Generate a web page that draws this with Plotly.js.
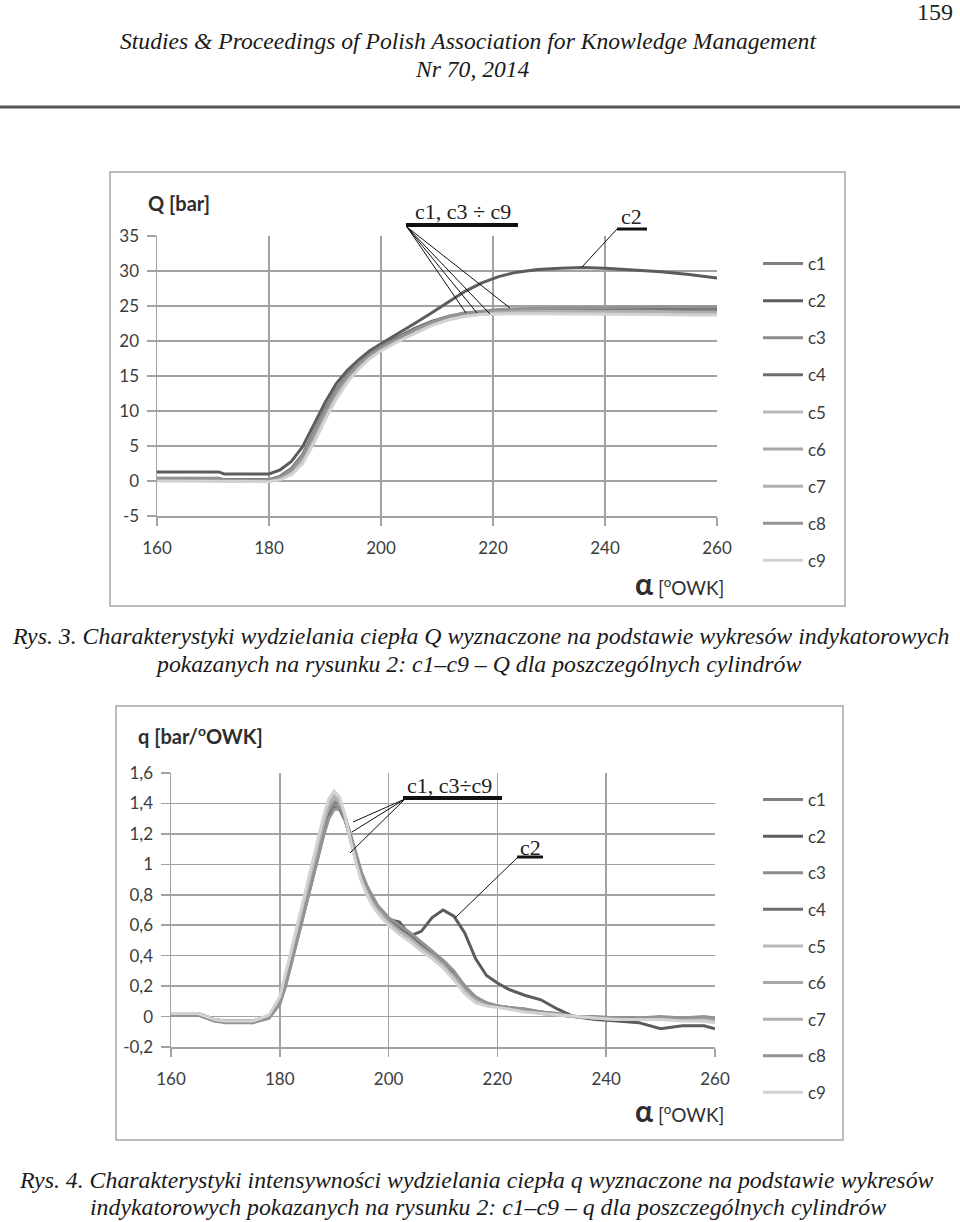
<!DOCTYPE html>
<html><head><meta charset="utf-8">
<script src="https://cdn.plot.ly/plotly-3.0.1.min.js"></script>
<style>html,body{margin:0;padding:0;background:#fff}#chart{width:960px;height:1222px}</style>
</head><body><div id="chart"></div>
<script>
// ---------- data ----------
const seriesNames = ['c1','c2','c3','c4','c5','c6','c7','c8','c9'];
const seriesColors = ['#808080','#5c5c5c','#8c8c8c','#6e6e6e','#b8b8b8','#a8a8a8','#b0b0b0','#939393','#d2d2d2'];

// Fig. 3: Q [bar] vs alpha
const alphaQ = [160,171,172,180,182,184,186,188,190,192,194,196,198,200,203,206,209,212,215,218,221,224,228,232,236,240,245,250,255,260];
const Q_c1 = [0.3,0.3,0.1,0.1,0.5,1.5,3.4,6.5,9.8,12.7,14.9,16.6,17.9,19.0,20.3,21.5,22.6,23.4,23.9,24.1,24.2,24.3,24.4,24.4,24.4,24.4,24.5,24.5,24.5,24.4];
const Q_c2 = [1.3,1.3,1.0,1.0,1.6,2.8,4.9,8.0,11.2,13.9,15.8,17.3,18.6,19.6,21.0,22.5,24.0,25.6,27.1,28.3,29.2,29.8,30.2,30.4,30.5,30.4,30.2,29.9,29.5,29.0];
const Q_c3 = [0.2,0.2,0.0,0.0,0.4,1.3,3.1,6.1,9.4,12.3,14.6,16.4,17.8,18.9,20.2,21.4,22.5,23.3,23.8,24.1,24.3,24.4,24.5,24.6,24.6,24.7,24.7,24.8,24.8,24.8];
const Q_c4 = [0.4,0.4,0.2,0.2,0.7,1.8,3.8,7.0,10.3,13.1,15.2,16.9,18.2,19.3,20.6,21.8,22.8,23.5,24.0,24.2,24.3,24.4,24.5,24.5,24.5,24.6,24.7,24.7,24.8,24.8];
const Q_c5 = [0.1,0.1,0.0,0.0,0.3,1.0,2.7,5.6,8.9,11.9,14.3,16.2,17.6,18.7,20.0,21.2,22.3,23.1,23.6,23.9,24.0,24.0,24.1,24.1,24.1,24.1,24.1,24.0,24.0,24.0];
const Q_c6 = [0.3,0.3,0.1,0.1,0.5,1.4,3.3,6.3,9.6,12.5,14.8,16.5,17.9,19.0,20.3,21.4,22.5,23.2,23.7,24.0,24.1,24.2,24.3,24.3,24.3,24.3,24.2,24.2,24.1,24.1];
const Q_c7 = [0.2,0.2,0.0,0.0,0.4,1.2,3.0,5.9,9.2,12.2,14.5,16.3,17.7,18.8,20.1,21.3,22.4,23.2,23.7,24.0,24.1,24.2,24.2,24.2,24.2,24.2,24.1,24.1,24.0,24.0];
const Q_c8 = [0.3,0.3,0.1,0.1,0.6,1.6,3.6,6.8,10.0,12.9,15.0,16.7,18.0,19.1,20.4,21.6,22.7,23.5,24.0,24.3,24.5,24.6,24.7,24.8,24.8,24.8,24.9,24.9,24.9,24.9];
const Q_c9 = [0.0,0.0,-0.1,-0.1,0.2,0.9,2.5,5.4,8.7,11.7,14.1,16.0,17.5,18.6,19.9,21.1,22.2,23.0,23.5,23.8,23.9,23.9,23.9,23.9,23.9,23.9,23.8,23.8,23.7,23.7];

// Fig. 4: q [bar/oOWK] vs alpha
const alphaq = [160,165,168,170,175,178,180,181,182,183,184,185,186,187,188,189,190,191,192,193,194,195,196,197,198,199,200,202,204,206,208,210,212,214,216,218,220,222,225,228,231,234,238,242,246,250,254,258,260];
const q_c1 = [0.02,0.02,-0.02,-0.03,-0.03,0.0,0.1,0.22,0.36,0.5,0.64,0.78,0.92,1.07,1.22,1.34,1.41,1.40,1.31,1.18,1.04,0.92,0.83,0.76,0.71,0.67,0.63,0.57,0.52,0.46,0.41,0.35,0.27,0.18,0.11,0.08,0.07,0.06,0.04,0.03,0.01,0.0,-0.01,-0.01,-0.02,-0.02,-0.01,-0.02,-0.03];
const q_c2 = [0.02,0.02,-0.02,-0.03,-0.03,0.0,0.1,0.21,0.34,0.48,0.62,0.76,0.9,1.05,1.19,1.31,1.38,1.37,1.29,1.17,1.03,0.91,0.82,0.75,0.7,0.66,0.64,0.62,0.53,0.56,0.65,0.70,0.66,0.55,0.38,0.27,0.22,0.18,0.14,0.11,0.05,0.0,-0.02,-0.03,-0.04,-0.08,-0.06,-0.06,-0.08];
const q_c3 = [0.01,0.01,-0.03,-0.03,-0.04,-0.01,0.09,0.2,0.34,0.48,0.62,0.76,0.9,1.05,1.2,1.32,1.39,1.38,1.3,1.18,1.05,0.94,0.85,0.78,0.72,0.68,0.64,0.58,0.53,0.47,0.42,0.36,0.28,0.19,0.12,0.09,0.07,0.06,0.05,0.03,0.02,0.0,-0.01,-0.02,-0.02,-0.01,-0.02,-0.01,-0.02];
const q_c4 = [0.02,0.01,-0.02,-0.03,-0.03,0.0,0.11,0.23,0.37,0.51,0.65,0.79,0.93,1.07,1.21,1.32,1.37,1.36,1.29,1.17,1.04,0.93,0.85,0.78,0.72,0.68,0.64,0.59,0.54,0.48,0.42,0.36,0.29,0.2,0.12,0.09,0.07,0.06,0.04,0.03,0.01,0.0,-0.01,-0.01,-0.01,-0.02,-0.01,-0.01,-0.02];
const q_c5 = [0.02,0.02,-0.02,-0.03,-0.03,0.0,0.12,0.25,0.4,0.55,0.69,0.84,0.98,1.13,1.28,1.4,1.45,1.42,1.31,1.16,1.02,0.9,0.81,0.74,0.69,0.65,0.61,0.55,0.5,0.44,0.39,0.33,0.25,0.16,0.1,0.07,0.06,0.05,0.04,0.02,0.01,0.0,-0.01,-0.02,-0.01,-0.02,-0.02,-0.03,-0.03];
const q_c6 = [0.02,0.02,-0.02,-0.03,-0.03,0.0,0.11,0.24,0.38,0.53,0.67,0.82,0.96,1.11,1.26,1.38,1.43,1.41,1.31,1.17,1.03,0.91,0.82,0.75,0.7,0.66,0.62,0.56,0.51,0.45,0.4,0.34,0.26,0.17,0.11,0.08,0.07,0.06,0.04,0.03,0.01,0.0,-0.01,-0.01,-0.02,-0.01,-0.01,-0.02,-0.02];
const q_c7 = [0.02,0.02,-0.02,-0.03,-0.03,0.0,0.12,0.24,0.39,0.54,0.68,0.83,0.97,1.12,1.27,1.39,1.44,1.41,1.3,1.16,1.02,0.9,0.81,0.75,0.7,0.66,0.62,0.56,0.51,0.45,0.4,0.34,0.26,0.17,0.11,0.08,0.07,0.06,0.04,0.02,0.01,0.0,-0.01,-0.02,-0.02,-0.02,-0.01,-0.02,-0.03];
const q_c8 = [0.01,0.01,-0.03,-0.04,-0.04,-0.01,0.08,0.19,0.33,0.47,0.61,0.75,0.89,1.04,1.18,1.3,1.36,1.37,1.31,1.2,1.07,0.95,0.86,0.79,0.73,0.69,0.65,0.6,0.55,0.49,0.43,0.37,0.3,0.2,0.13,0.09,0.07,0.06,0.05,0.03,0.02,0.0,0.0,-0.01,-0.01,0.0,-0.01,0.0,-0.01];
const q_c9 = [0.02,0.02,-0.02,-0.03,-0.03,0.01,0.13,0.27,0.42,0.57,0.72,0.87,1.01,1.16,1.31,1.43,1.48,1.44,1.32,1.16,1.01,0.89,0.8,0.73,0.68,0.64,0.6,0.54,0.49,0.43,0.38,0.32,0.24,0.15,0.09,0.07,0.06,0.05,0.03,0.02,0.01,0.0,-0.01,-0.02,-0.02,-0.02,-0.03,-0.03,-0.04];

// ticks
const xTickVals = [160,180,200,220,240,260];
const xTickText = ['160','180','200','220','240','260'];
const QTickVals = [-5,0,5,10,15,20,25,30,35];
const QTickText = ['-5','0','5','10','15','20','25','30','35'];
const qTickVals = [-0.2,0,0.2,0.4,0.6,0.8,1,1.2,1.4,1.6];
const qTickText = ['-0,2','0','0,2','0,4','0,6','0,8','1','1,2','1,4','1,6'];

// ---------- build ----------
const W = 960, H = 1222;
const px = x => x / W;
const py = y => 1 - y / H;
const Qseries = [Q_c1,Q_c2,Q_c3,Q_c4,Q_c5,Q_c6,Q_c7,Q_c8,Q_c9];
const qseries = [q_c1,q_c2,q_c3,q_c4,q_c5,q_c6,q_c7,q_c8,q_c9];

const traces = [];
seriesNames.forEach((n,i) => {
  traces.push({x: alphaQ, y: Qseries[i], name: n, mode: 'lines', xaxis: 'x', yaxis: 'y',
    legend: 'legend', legendgroup: 'A'+n, line: {color: seriesColors[i], width: 3}, hoverinfo: 'skip'});
});
seriesNames.forEach((n,i) => {
  traces.push({x: alphaq, y: qseries[i], name: n, mode: 'lines', xaxis: 'x2', yaxis: 'y2',
    legend: 'legend2', legendgroup: 'B'+n, line: {color: seriesColors[i], width: 3}, hoverinfo: 'skip'});
});

const GRID = '#a2a2a2';
const TICKFONT = {family: 'Lato, "Open Sans", sans-serif', size: 17, color: '#3c3c3c'};
function xax(dom, anchor) {
  return {domain: dom, anchor: anchor, range: [160,260], tickmode: 'array', tickvals: xTickVals, ticktext: xTickText,
    showgrid: true, gridcolor: GRID, gridwidth: 1.5, showline: true, linecolor: GRID, linewidth: 1.5,
    ticks: 'outside', ticklen: 8, tickwidth: 1.5, tickcolor: GRID, tickfont: TICKFONT, zeroline: false,
    ticklabelstandoff: 8, fixedrange: true};
}
function yax(dom, anchor, rng, tv, tt) {
  return {domain: dom, anchor: anchor, range: rng, tickmode: 'array', tickvals: tv, ticktext: tt,
    showgrid: true, gridcolor: GRID, gridwidth: 1.5, showline: true, linecolor: GRID, linewidth: 1.5,
    ticks: 'outside', ticklen: 9, tickwidth: 1.5, tickcolor: GRID, tickfont: TICKFONT, zeroline: false,
    ticklabelstandoff: 4, fixedrange: true};
}

const SERIF = '"Liberation Serif", "Times New Roman", serif';
const SANS = 'Lato, "Open Sans", sans-serif';
function txt(t, x, y, size, family, xanchor, color, extra) {
  return Object.assign({text: t, x: px(x), y: py(y), xref: 'paper', yref: 'paper', showarrow: false,
    xanchor: xanchor || 'center', yanchor: 'middle', font: {family: family, size: size, color: color || '#1a1a1a'}}, extra || {});
}
function seg(x0, y0, x1, y1, w, c) {
  return {type: 'line', xref: 'paper', yref: 'paper', x0: px(x0), y0: py(y0), x1: px(x1), y1: py(y1),
    line: {color: c || '#111', width: w || 1}};
}

const annotations = [
  txt('159', 955, 12, 24, SERIF, 'right', '#222'),
  txt('<i>Studies &amp; Proceedings of Polish Association for Knowledge Management</i>', 468, 41, 23.6, SERIF),
  txt('<i>Nr 70, 2014</i>', 472, 69, 23.6, SERIF),
  // chart 1 axis titles
  txt('<b>Q [bar]</b>', 146, 203, 20, SANS, 'left', '#2e2e2e'),
  txt('<b><span style="font-size:30px">α</span></b> [<sup>o</sup>OWK]', 726, 583, 19, SANS, 'right', '#2e2e2e'),
  // chart 1 labels
  txt('c1, c3 ÷ c9', 463, 211, 22, SERIF, 'center', '#222'),
  txt('c2', 631, 217, 22, SERIF, 'center', '#222'),
  // caption 1
  txt('<i>Rys. 3. Charakterystyki wydzielania ciepła Q wyznaczone na podstawie wykresów indykatorowych</i>', 480, 636, 23.8, SERIF),
  txt('<i>pokazanych na rysunku 2: c1–c9 – Q dla poszczególnych cylindrów</i>', 478, 664, 23.8, SERIF),
  // chart 2 axis titles
  txt('<b>q [bar/<sup>o</sup>OWK]</b>', 136, 735, 20, SANS, 'left', '#2e2e2e'),
  txt('<b><span style="font-size:30px">α</span></b> [<sup>o</sup>OWK]', 726, 1110, 19, SANS, 'right', '#2e2e2e'),
  // chart 2 labels
  txt('c1, c3÷c9', 449, 785, 22, SERIF, 'center', '#222'),
  txt('c2', 530, 847, 22, SERIF, 'center', '#222'),
  // caption 2
  txt('<i>Rys. 4. Charakterystyki intensywności wydzielania ciepła q wyznaczone na podstawie wykresów</i>', 476, 1180, 23.8, SERIF),
  txt('<i>indykatorowych pokazanych na rysunku 2: c1–c9 – q dla poszczególnych cylindrów</i>', 488, 1207, 23.8, SERIF)
];

const shapes = [
  seg(0, 107, 960, 107, 3, '#555'),
  {type: 'rect', xref: 'paper', yref: 'paper', x0: px(110), y0: py(606), x1: px(845), y1: py(172), line: {color: '#a8a8a8', width: 1.5}},
  {type: 'rect', xref: 'paper', yref: 'paper', x0: px(116), y0: py(1140), x1: px(843), y1: py(706), line: {color: '#a8a8a8', width: 1.5}},
  // chart 1 label underlines + leaders
  seg(406, 225, 518, 225, 4),
  seg(407, 227, 466, 313), seg(407, 227, 477, 313), seg(407, 227, 490, 314), seg(407, 227, 510, 308),
  seg(617, 229, 647, 229, 3),
  seg(617, 229, 582, 267),
  // chart 2 label underlines + leaders
  seg(403, 798, 502, 798, 4),
  seg(405, 799, 353, 822), seg(405, 799, 352, 832), seg(405, 799, 350, 853),
  seg(517, 857, 543, 857, 3),
  seg(517, 858, 455, 918)
];

const LEGFONT = {family: SANS, size: 17, color: '#3c3c3c'};
const layout = {
  width: W, height: H, margin: {l: 0, r: 0, t: 0, b: 0},
  paper_bgcolor: '#fff', plot_bgcolor: '#fff', showlegend: true,
  xaxis: xax([px(157), px(717)], 'y'),
  yaxis: yax([py(516), py(236)], 'x', [-5, 35], QTickVals, QTickText),
  xaxis2: xax([px(171), px(715)], 'y2'),
  yaxis2: yax([py(1047), py(773)], 'x2', [-0.2, 1.6], qTickVals, qTickText),
  legend: {x: px(758), y: py(246), xanchor: 'left', yanchor: 'top', font: LEGFONT, bgcolor: 'rgba(0,0,0,0)',
    tracegroupgap: 12, itemwidth: 40, traceorder: 'grouped'},
  legend2: {x: px(758), y: py(782), xanchor: 'left', yanchor: 'top', font: LEGFONT, bgcolor: 'rgba(0,0,0,0)',
    tracegroupgap: 11.5, itemwidth: 40, traceorder: 'grouped'},
  annotations: annotations, shapes: shapes
};

Plotly.newPlot('chart', traces, layout, {staticPlot: true, displayModeBar: false});
</script></body></html>
